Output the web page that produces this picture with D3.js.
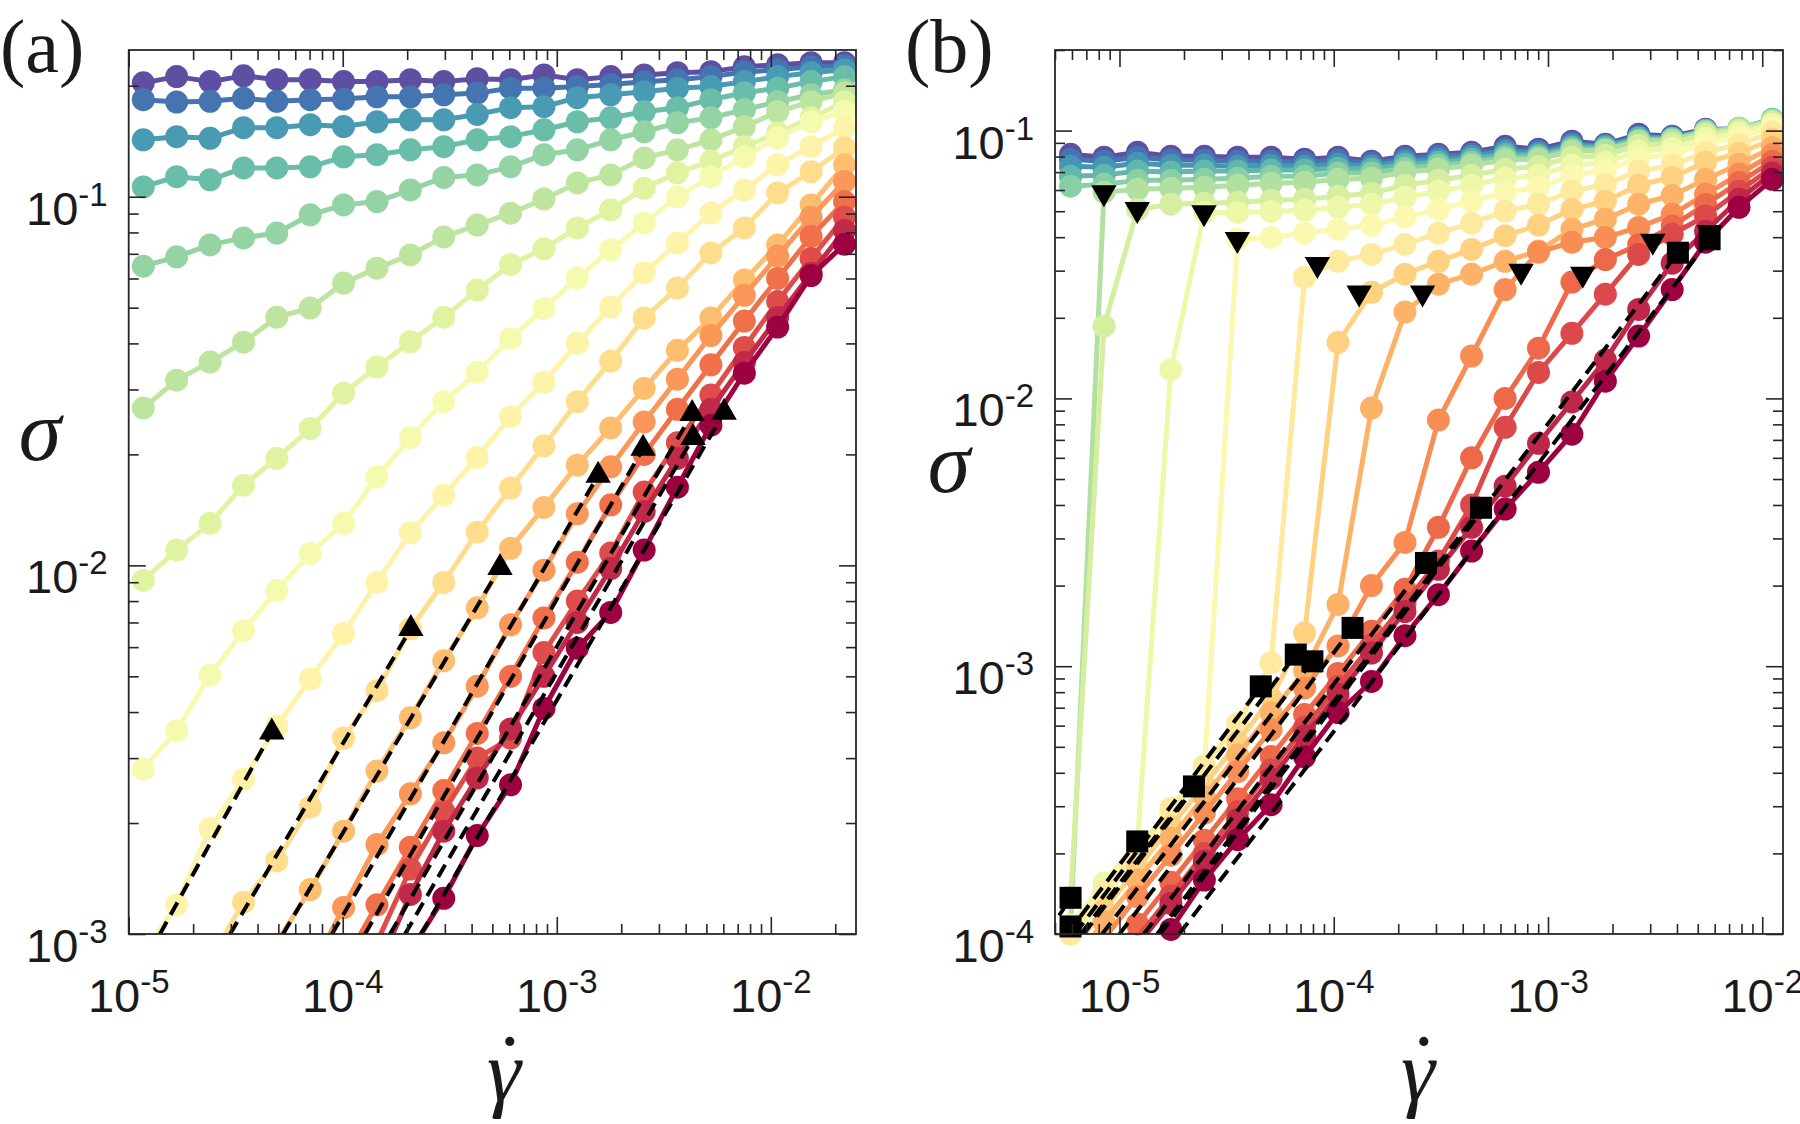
<!DOCTYPE html>
<html>
<head>
<meta charset="utf-8">
<title>Flow curves sigma vs shear rate</title>
<script src="https://d3js.org/d3.v7.min.js"></script>
<style>
  html, body { margin: 0; padding: 0; background: #fff; }
  .tick-label { font-family: "Liberation Sans", Arial, sans-serif; fill: #1a1a1a; font-size: 47px; }
  .axis-title { font-family: "Liberation Serif", "Times New Roman", serif; font-style: italic; fill: #1a1a1a; }
  .panel-label { font-family: "Liberation Serif", "Times New Roman", serif; fill: #1a1a1a; font-size: 76px; }
</style>
</head>
<body>
<svg id="fig" width="1800" height="1124"></svg>
<script>
// shear rates sampled in each panel
const rateA = [1.17e-5, 1.675e-5, 2.40e-5, 3.44e-5, 4.92e-5, 7.05e-5, 1.009e-4, 1.445e-4, 2.07e-4, 2.965e-4, 4.25e-4,
               6.08e-4, 8.71e-4, 1.247e-3, 1.786e-3, 2.56e-3, 3.66e-3, 5.25e-3, 7.52e-3, 1.076e-2, 1.542e-2, 2.21e-2];
const rateB = [5.91e-6, 8.47e-6, 1.213e-5, 1.737e-5, 2.49e-5, 3.56e-5, 5.10e-5, 7.31e-5, 1.047e-4, 1.50e-4, 2.15e-4,
               3.08e-4, 4.40e-4, 6.31e-4, 9.03e-4, 1.293e-3, 1.852e-3, 2.65e-3, 3.80e-3, 5.44e-3, 7.79e-3, 1.116e-2];

// panel (a) stress curves, purple (top) to dark red (bottom)
const a00 = [0.2036,0.2117,0.2052,0.2127,0.2077,0.2077,0.2052,0.2052,0.2077,0.2052,0.2090,0.2077,0.2140,0.2077,0.2117,0.2140,0.2170,0.2184,0.2250,0.2280,0.2310,0.2310];
const a01 = [0.1833,0.1806,0.1815,0.1850,0.1815,0.1833,0.1840,0.1866,0.1866,0.1890,0.1910,0.1970,0.1970,0.1990,0.2015,0.2050,0.2077,0.2117,0.2180,0.2210,0.2250,0.2265];
const a02 = [0.1427,0.1455,0.1440,0.1539,0.1539,0.1568,0.1550,0.1597,0.1617,0.1617,0.1672,0.1744,0.1755,0.1856,0.1890,0.1926,0.1970,0.1990,0.2052,0.2117,0.2170,0.2210];
const a03 = [0.1063,0.1133,0.1111,0.1197,0.1197,0.1205,0.1283,0.1300,0.1340,0.1367,0.1427,0.1455,0.1519,0.1597,0.1637,0.1700,0.1744,0.1833,0.1914,0.1970,0.2052,0.2117];
const a04 = [0.0648,0.0687,0.0740,0.0773,0.0797,0.0893,0.0950,0.0970,0.1043,0.1128,0.1146,0.1205,0.1300,0.1340,0.1427,0.1500,0.1586,0.1637,0.1722,0.1810,0.1890,0.1950];
const a05 = [0.0267,0.0318,0.0356,0.0403,0.0471,0.0499,0.0583,0.0640,0.0695,0.0778,0.0838,0.0902,0.0986,0.1090,0.1146,0.1274,0.1340,0.1427,0.1547,0.1700,0.1810,0.1914];
const a06 = [0.0091,0.0110,0.0130,0.0165,0.0195,0.0235,0.0293,0.0345,0.0404,0.0471,0.0558,0.0655,0.0722,0.0823,0.0921,0.1054,0.1161,0.1250,0.1367,0.1490,0.1637,0.1810];
const a07 = [0.00280,0.00356,0.00504,0.00665,0.00854,0.01077,0.0130,0.01736,0.0222,0.0278,0.0334,0.0412,0.0497,0.0602,0.0717,0.0849,0.0999,0.1133,0.1283,0.1445,0.1597,0.1706];
const a08 = [0.00088,0.00120,0.00193,0.00263,0.00366,0.00492,0.00653,0.00899,0.01225,0.0155,0.0196,0.0253,0.0314,0.0401,0.0502,0.0621,0.0749,0.0903,0.1043,0.1220,0.1367,0.1539];
const a09 = [0.00045,0.00062,0.00085,0.00122,0.00158,0.00221,0.00340,0.00457,0.00673,0.00899,0.01230,0.0162,0.0211,0.0278,0.0358,0.0469,0.0565,0.0704,0.0823,0.1024,0.1168,0.1358];
const a10 = [0.00020,0.00030,0.00045,0.00065,0.00095,0.00132,0.00190,0.00277,0.00386,0.00551,0.00767,0.01112,0.01436,0.0187,0.0236,0.0302,0.0383,0.0469,0.0594,0.0740,0.0950,0.1220];
const a11 = [0.00013,0.00019,0.00027,0.00039,0.00055,0.00079,0.00118,0.00175,0.00240,0.00330,0.00470,0.00690,0.0097,0.0138,0.0185,0.0245,0.0320,0.0420,0.0540,0.0690,0.0880,0.1100];
const a12 = [0.00010,0.00014,0.00020,0.00028,0.00040,0.00058,0.00083,0.00120,0.00172,0.00245,0.00350,0.0050,0.0072,0.0102,0.0146,0.0200,0.0265,0.0350,0.0460,0.0600,0.0780,0.0970];
const a13 = [0.00007,0.00010,0.00014,0.00020,0.00029,0.00042,0.00061,0.00095,0.00150,0.00215,0.00300,0.00340,0.00580,0.00800,0.0108,0.0158,0.0215,0.0290,0.0390,0.0520,0.0680,0.0880];
const a14 = [0.00006,0.000085,0.00012,0.000175,0.00025,0.00036,0.00052,0.00080,0.00128,0.00190,0.00265,0.00360,0.00500,0.00700,0.0098,0.0140,0.0195,0.0265,0.0355,0.0470,0.0620,0.0810];
const a15 = [0.00005,0.00007,0.00010,0.000145,0.00021,0.00030,0.00043,0.00062,0.00090,0.00125,0.00185,0.00254,0.00409,0.00596,0.00745,0.0110,0.0163,0.0240,0.0332,0.0443,0.0611,0.0743];

// panel (a) triangles (end of the Newtonian fit) and where each dashed fit leaves the bottom axis
const triRateA   = [4.66e-5, 2.08e-4, 5.43e-4, 1.56e-3, 2.53e-3, 4.29e-3, 4.33e-3, 6.05e-3];
const triStressA = [3.53e-3, 6.73e-3, 9.86e-3, 1.754e-2, 2.075e-2, 2.58e-2, 2.22e-2, 2.6e-2];
const fitLowRateA = [1.40e-5, 2.975e-5, 5.26e-5, 8.91e-5, 1.272e-4, 1.663e-4, 1.955e-4, 2.322e-4];

// panel (b) stress curves
const b00 = [0.0816,0.0796,0.0830,0.0803,0.0803,0.0796,0.0796,0.0782,0.0796,0.0769,0.0803,0.0816,0.0830,0.0874,0.0852,0.0913,0.0889,0.0970,0.0953,0.1012,0.1012,0.1084];
const b01 = [0.0782,0.0769,0.0796,0.0776,0.0776,0.0769,0.0769,0.0762,0.0776,0.0755,0.0789,0.0803,0.0816,0.0852,0.0838,0.0897,0.0882,0.0953,0.0945,0.1003,0.1003,0.1075];
const b02 = [0.0736,0.0730,0.0755,0.0743,0.0743,0.0736,0.0743,0.0736,0.0749,0.0736,0.0769,0.0782,0.0803,0.0838,0.0824,0.0882,0.0874,0.0945,0.0936,0.1003,0.1012,0.1094];
const b03 = [0.0676,0.0682,0.0706,0.0700,0.0706,0.0706,0.0712,0.0712,0.0724,0.0718,0.0749,0.0762,0.0782,0.0816,0.0809,0.0867,0.0867,0.0936,0.0936,0.1003,0.1021,0.1103];
const b04 = [0.0620,0.0630,0.0652,0.0652,0.0658,0.0664,0.0676,0.0676,0.0694,0.0694,0.0724,0.0743,0.0762,0.0796,0.0796,0.0852,0.0852,0.0921,0.0929,0.0995,0.1021,0.1094];
const b05 = [0.000107,0.0589,0.0604,0.0609,0.0614,0.0625,0.0636,0.0641,0.0658,0.0664,0.0700,0.0718,0.0743,0.0776,0.0782,0.0838,0.0845,0.0913,0.0921,0.0986,0.1021,0.1094];
const b06 = [0.000137,0.0186,0.0508,0.0531,0.0535,0.0540,0.0549,0.0554,0.0569,0.0584,0.0625,0.0653,0.0681,0.0718,0.0736,0.0796,0.0809,0.0882,0.0897,0.0970,0.1003,0.1075];
const b07 = [0.000108,0.000155,0.000222,0.0128,0.0495,0.0495,0.0499,0.0504,0.0517,0.0531,0.0564,0.0594,0.0625,0.0664,0.0681,0.0743,0.0762,0.0838,0.0860,0.0936,0.0979,0.1057];
const b08 = [0.000095,0.000136,0.000194,0.000278,0.00042,0.0393,0.0399,0.0414,0.0428,0.0443,0.0475,0.0508,0.0545,0.0589,0.0614,0.0681,0.0712,0.0789,0.0816,0.0897,0.0945,0.1030];
const b09 = [0.000100,0.000144,0.000206,0.000295,0.000425,0.00061,0.00103,0.0283,0.0325,0.0345,0.0376,0.0414,0.0451,0.0500,0.0531,0.0594,0.0630,0.0706,0.0742,0.0830,0.0889,0.0986];
const b10 = [0.000086,0.000123,0.000176,0.000252,0.00036,0.00052,0.00076,0.00133,0.0162,0.0249,0.0291,0.0325,0.0360,0.0405,0.0444,0.0508,0.0545,0.0625,0.0670,0.0762,0.0823,0.0929];
const b11 = [0.000077,0.000111,0.000159,0.000228,0.000326,0.000466,0.00067,0.00096,0.0017,0.0092,0.0210,0.0267,0.0291,0.0325,0.0355,0.0428,0.0467,0.0531,0.0573,0.0658,0.0749,0.0865];
const b12 = [0.000067,0.000096,0.000138,0.000197,0.000283,0.000404,0.00058,0.00083,0.00119,0.0020,0.0029,0.0083,0.0144,0.0255,0.0352,0.0383,0.0399,0.0435,0.0487,0.0578,0.0688,0.0816];
const b13 = [0.000053,0.000076,0.000109,0.000156,0.000224,0.00032,0.00046,0.00066,0.00094,0.00135,0.00194,0.0033,0.0060,0.0100,0.0154,0.0272,0.0330,0.0375,0.0440,0.0530,0.0640,0.0769];
const b14 = [0.000047,0.000068,0.000097,0.000139,0.00020,0.000286,0.00041,0.00059,0.00084,0.0012,0.00172,0.00247,0.0040,0.0078,0.0125,0.0175,0.0245,0.0345,0.0410,0.0480,0.0594,0.0730];
const b15 = [0.000044,0.0000635,0.000091,0.00013,0.000187,0.000267,0.00038,0.00055,0.000785,0.00112,0.0016,0.0023,0.0033,0.0047,0.0068,0.0097,0.0139,0.0215,0.0320,0.0421,0.0554,0.0694];
const b16 = [0.000035,0.00005,0.00007,0.000104,0.000159,0.000225,0.000304,0.000459,0.000671,0.000877,0.0013,0.00185,0.00269,0.00386,0.0053,0.00735,0.0116,0.0171,0.0255,0.0383,0.0517,0.0658];

// panel (b) markers: down-triangles (leaving the plateau), squares (end of Newtonian fit)
const triRateB   = [8.455e-6, 1.21e-5, 2.48e-5, 3.548e-5, 8.39e-5, 1.314e-4, 2.597e-4, 7.49e-4, 1.453e-3, 3.085e-3, 5.68e-3];
const triStressB = [0.0587, 0.0508, 0.0494, 0.0393, 0.0317, 0.0248, 0.0248, 0.0299, 0.0291, 0.0387, 0.0417];
const sqRateB    = [5.91e-6, 5.91e-6, 1.21e-5, 2.226e-5, 4.565e-5, 6.65e-5, 7.95e-5, 1.224e-4, 2.694e-4, 4.87e-4, 4.04e-3, 5.68e-3];
const sqStressB  = [1.067e-4, 1.365e-4, 2.216e-4, 3.557e-4, 8.41e-4, 1.105e-3, 1.043e-3, 1.39e-3, 2.43e-3, 3.905e-3, 0.035, 0.0393];
const fitLowRateB = [5.5e-6, 4.6e-6, 5.7e-6, 6.6e-6, 6.2e-6, 6.8e-6, 8.3e-6, 1.0e-5, 1.3e-5, 1.5e-5, 1.55e-5, 1.9e-5];

// decade ticks and their exponent labels
const xMajorA = [1e-5, 1e-4, 1e-3, 1e-2], xExpA = ["-5", "-4", "-3", "-2"];
const yMajorA = [1e-3, 1e-2, 1e-1],       yExpA = ["-3", "-2", "-1"];
const xMajorB = [1e-5, 1e-4, 1e-3, 1e-2], xExpB = ["-5", "-4", "-3", "-2"];
const yMajorB = [1e-4, 1e-3, 1e-2, 1e-1], yExpB = ["-4", "-3", "-2", "-1"];

const svg = d3.select("#fig");
const TOP = 50, BOTTOM = 934;

function drawPanel(p) {
  const g = svg.append("g");
  const x = d3.scaleLog().domain(p.xDomain).range([p.left, p.right]);
  const y = d3.scaleLog().domain(p.yDomain).range([BOTTOM, TOP]);
  const w = p.right - p.left, h = BOTTOM - TOP;

  g.append("clipPath").attr("id", p.id + "-clip")
    .append("rect").attr("x", p.left).attr("y", TOP).attr("width", w).attr("height", h);
  const clip = `url(#${p.id}-clip)`;

  const n = p.curves.length;
  const colour = i => d3.interpolateSpectral(1 - i / (n - 1));
  const line = d3.line().x((d, k) => x(p.rates[k])).y(d => y(d));

  // each curve: line then its filled circles
  p.curves.forEach((c, i) => {
    const cg = g.append("g");
    cg.append("path").attr("d", line(c)).attr("fill", "none")
      .attr("stroke", colour(i)).attr("stroke-width", 5)
      .attr("stroke-linejoin", "round").attr("clip-path", clip);
    cg.selectAll("circle")
      .data(c.map((s, k) => [p.rates[k], s]).filter(d => d[1] >= p.yDomain[0] && d[1] <= p.yDomain[1]))
      .join("circle")
      .attr("cx", d => x(d[0])).attr("cy", d => y(d[1])).attr("r", 11.5)
      .attr("fill", colour(i));
  });

  // dashed Newtonian fits
  p.fitEnd.forEach((e, j) => {
    g.append("path")
      .attr("d", d3.line().x(d => x(d[0])).y(d => y(d[1]))([[p.fitLow[j], p.yDomain[0]], e]))
      .attr("fill", "none").attr("stroke", "#000").attr("stroke-width", 4)
      .attr("stroke-dasharray", "14 8").attr("clip-path", clip);
  });

  // black markers
  g.selectAll("path.tri").data(p.tris).join("path").attr("class", "tri")
    .attr("d", d3.symbol(d3.symbolTriangle, 280)())
    .attr("transform", d => `translate(${x(d[0])},${y(d[1])}) rotate(${p.triDown ? 180 : 0})`)
    .attr("fill", "#000");
  g.selectAll("path.sq").data(p.squares).join("path").attr("class", "sq")
    .attr("d", d3.symbol(d3.symbolSquare, 484)())
    .attr("transform", d => `translate(${x(d[0])},${y(d[1])})`)
    .attr("fill", "#000");

  // axes: ticks inside on all four sides
  const ax = g.append("g").attr("color", "#262626");
  const xMinor = x.ticks().filter(v => !p.xMajor.some(m => Math.abs(v / m - 1) < 1e-6));
  const yMinor = y.ticks().filter(v => !p.yMajor.some(m => Math.abs(v / m - 1) < 1e-6));
  const sides = [
    [d3.axisBottom(x), `translate(0,${BOTTOM})`, p.xMajor, xMinor],
    [d3.axisTop(x), `translate(0,${TOP})`, p.xMajor, xMinor],
    [d3.axisLeft(y), `translate(${p.left},0)`, p.yMajor, yMinor],
    [d3.axisRight(y), `translate(${p.right},0)`, p.yMajor, yMinor]
  ];
  sides.forEach(([axis, tr, maj, min]) => {
    [[maj, 17], [min, 10]].forEach(([vals, len]) => {
      ax.append("g").attr("transform", tr)
        .call(axis.tickValues(vals).tickSize(-len).tickSizeOuter(0).tickFormat(""))
        .call(s => s.select(".domain").remove())
        .selectAll("line").attr("stroke-width", 1.6);
    });
  });
  ax.append("rect").attr("x", p.left).attr("y", TOP).attr("width", w).attr("height", h)
    .attr("fill", "none").attr("stroke", "#262626").attr("stroke-width", 1.8);

  // tick labels: 10 with a raised exponent
  p.xMajor.forEach((v, j) => {
    const t = g.append("text").attr("class", "tick-label").attr("text-anchor", "middle")
      .attr("x", x(v)).attr("y", BOTTOM + 78);
    t.append("tspan").text("10");
    t.append("tspan").attr("dy", -19).attr("font-size", 33).text(p.xExp[j]);
  });
  p.yMajor.forEach((v, j) => {
    const t = g.append("text").attr("class", "tick-label").attr("text-anchor", "end")
      .attr("x", p.left - 21).attr("y", y(v) + 28);
    t.append("tspan").text("10");
    t.append("tspan").attr("dy", -19).attr("font-size", 33).text(p.yExp[j]);
  });

  // axis titles (gamma with an overdot in one text) and panel label
  g.append("text").attr("class", "axis-title").attr("text-anchor", "middle")
    .attr("x", p.sigmaX).attr("y", p.sigmaY).attr("font-size", 86).text("σ");
  const gt = g.append("text").attr("class", "axis-title")
    .attr("x", p.gammaX - 19).attr("y", 1100).attr("font-size", 86);
  gt.append("tspan").text("γ");
  gt.append("tspan").attr("dx", -31).attr("dy", -6).text("\u02D9");
  g.append("text").attr("class", "panel-label").attr("x", p.labelX).attr("y", 72).text(p.label);
}

drawPanel({
  id: "a", label: "(a)", labelX: 0,
  left: 128.7, right: 856, xDomain: [1e-5, 2.5e-2], yDomain: [1e-3, 0.25],
  rates: rateA,
  curves: [a00, a01, a02, a03, a04, a05, a06, a07, a08, a09, a10, a11, a12, a13, a14, a15],
  fitEnd: triRateA.map((r, j) => [r, triStressA[j]]), fitLow: fitLowRateA,
  tris: triRateA.map((r, j) => [r, triStressA[j]]), triDown: false, squares: [],
  xMajor: xMajorA, xExp: xExpA, yMajor: yMajorA, yExp: yExpA,
  sigmaX: 40, sigmaY: 460, gammaX: 506
});

drawPanel({
  id: "b", label: "(b)", labelX: 905,
  left: 1055, right: 1783, xDomain: [5e-6, 1.25e-2], yDomain: [1e-4, 0.2],
  rates: rateB,
  curves: [b00, b01, b02, b03, b04, b05, b06, b07, b08, b09, b10, b11, b12, b13, b14, b15, b16],
  fitEnd: sqRateB.map((r, j) => [r, sqStressB[j]]), fitLow: fitLowRateB,
  tris: triRateB.map((r, j) => [r, triStressB[j]]), triDown: true,
  squares: sqRateB.map((r, j) => [r, sqStressB[j]]),
  xMajor: xMajorB, xExp: xExpB, yMajor: yMajorB, yExp: yExpB,
  sigmaX: 949, sigmaY: 492, gammaX: 1420
});
</script>
</body>
</html>
